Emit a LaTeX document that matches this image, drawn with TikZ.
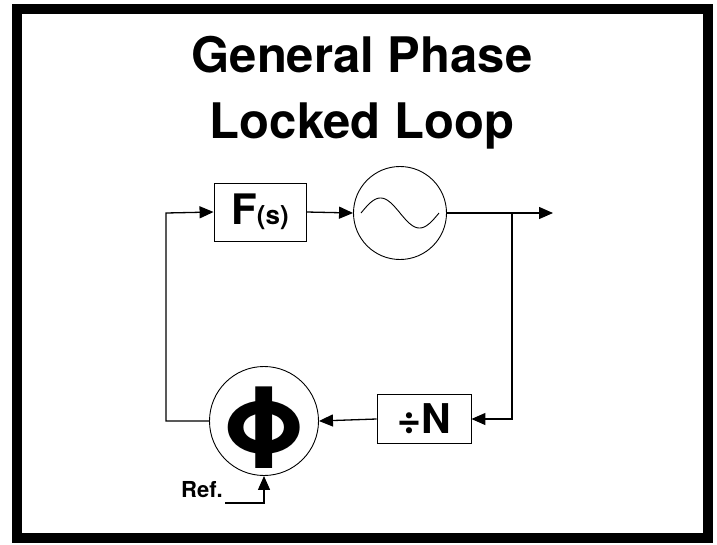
\documentclass[tikz,border=0pt]{standalone}
\usepackage{fontspec}
\setmainfont{TeX Gyre Heros}
\usetikzlibrary{arrows.meta}
\begin{document}
\begin{tikzpicture}[x=1pt,y=-1pt,
  conn/.style={line width=1.3pt, -{Triangle[length=14pt,width=12pt]}},
  blk/.style={draw, line width=0.9pt, rectangle, inner sep=0pt},
  ring/.style={draw, line width=0.9pt, circle, inner sep=0pt},
  ttl/.style={font=\fontsize{49}{49}\selectfont\bfseries, anchor=base, inner sep=0pt},
]
\useasboundingbox (0,0) rectangle (717,544);
\draw[line width=10pt] (17,9) rectangle (708,538);
\node[ttl] (t1) at (362,72) {General Phase};
\node[ttl] (t2) at (362,138) {Locked Loop};

\node[blk, minimum width=92pt, minimum height=58pt] (F) at (260,212)
  {\fontsize{42}{42}\selectfont\bfseries F\fontsize{26}{26}\selectfont(s)};
\node[ring, minimum size=93pt] (vco) at (400,213) {};
\draw[line width=0.9pt, domain=0:360, samples=80]
  plot ({361+\x/360*78}, {213-15*sin(\x)});

\node[blk, minimum width=94pt, minimum height=49pt] (N) at (424,419)
  {\fontsize{41}{41}\selectfont\bfseries ÷N};
\node[ring, minimum size=109pt] (pd) at (264,421) {};
\node[inner sep=0pt] (phi) at (264,428)
  {\fontsize{112}{112}\selectfont\bfseries Φ};

\coordinate (Lt) at (166,213);
\coordinate (out) at (553,213);
\coordinate (br) at (512,213);
\coordinate (refend) at (225,503);

\draw[conn] (F.east) -- (vco.west);
\draw[conn] (vco.east) -- (out);
\draw[conn] (br) |- (N.east);
\draw[conn] (N.west) -- (pd.east);
\draw[conn] (pd.west) -| (Lt) -- (F.west);

\node[font=\fontsize{22}{22}\selectfont\bfseries, anchor=base east, inner sep=0pt] (ref) at (223,497) {Ref.};
\draw[conn] (refend) -| (pd.south);
\end{tikzpicture}
\end{document}
